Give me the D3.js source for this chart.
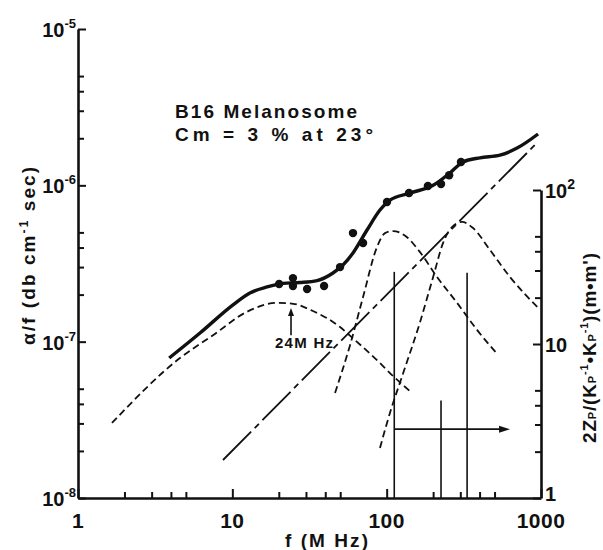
<!DOCTYPE html>
<html>
<head>
<meta charset="utf-8">
<script src="https://cdn.jsdelivr.net/npm/d3@7"></script>
<style>
  body { margin: 0; background: #fff; }
  text { font-family: "Liberation Sans", Arial, sans-serif; font-weight: bold; fill: #111; }
</style>
</head>
<body>
<div id="chart"></div>
<script>
// tick values
var xMajor = [1, 10, 100, 1000];
var yLeftMajor = [1e-8, 1e-7, 1e-6, 1e-5];
var yRightMajor = [1, 10, 100];
var minorMult = [2, 3, 4, 5];

// measured points (alpha/f)
var measF = [20.1, 24.7, 24.7, 30.5, 39.3, 49.9, 60.5, 70.3, 100.5, 139.6, 185, 225, 254, 303];
var measA = [2.34e-7, 2.55e-7, 2.27e-7, 2.17e-7, 2.27e-7, 3.0e-7, 4.95e-7, 4.28e-7, 7.82e-7, 8.93e-7, 9.9e-7, 1.02e-6, 1.16e-6, 1.41e-6];

// fitted total curve
var fitF = [3.9, 6.2, 10.1, 13.0, 16.8, 21.3, 27.4, 35.4, 44.9, 52.1, 60.5, 74.6, 90.5, 105, 142, 200, 257, 312, 403, 542, 700, 957];
var fitA = [7.86e-8, 1.14e-7, 1.72e-7, 2.05e-7, 2.24e-7, 2.36e-7, 2.39e-7, 2.46e-7, 2.75e-7, 3.09e-7, 3.69e-7, 5.18e-7, 6.95e-7, 8.05e-7, 8.93e-7, 1.0e-6, 1.2e-6, 1.41e-6, 1.5e-6, 1.56e-6, 1.73e-6, 2.13e-6];

// relaxation components (dashed)
var relax1F = [1.66, 4.58, 7.5, 12.4, 19.5, 23.6, 33.3, 49.9, 60.5, 90.5, 105, 146];
var relax1A = [3.02e-8, 7.86e-8, 1.10e-7, 1.55e-7, 1.77e-7, 1.76e-7, 1.57e-7, 1.24e-7, 1.05e-7, 7.3e-8, 6.3e-8, 4.7e-8];
var relax2F = [46.3, 57.9, 70.3, 86.6, 97.5, 110, 135, 164, 212, 286, 385, 527];
var relax2A = [4.7e-8, 9.5e-8, 1.93e-7, 4.03e-7, 4.95e-7, 5.1e-7, 4.67e-7, 3.75e-7, 2.59e-7, 1.77e-7, 1.19e-7, 8.22e-8];
var relax3F = [90.5, 105, 128, 164, 200, 232, 265, 308, 363, 467, 630, 985];
var relax3A = [2.09e-8, 3.5e-8, 6.3e-8, 1.32e-7, 2.59e-7, 4.28e-7, 5.41e-7, 5.83e-7, 5.33e-7, 3.86e-7, 2.59e-7, 1.6e-7];

// classical f^2 line (dash-dot)
var classF = [8.7, 957];
var classA = [1.75e-8, 1.9e-6];

// relaxation spectrum bars (right axis)
var specF = [112, 225, 332];
var specH = [29.4, 4.3, 29];
var arrowF = [112, 630];
var arrowLevel = 2.8;

// 24 MHz annotation
var peakF = 24;
var peakArrowA = [1.10e-7, 1.64e-7];

var width = 603, height = 550;
var svg = d3.select("#chart").append("svg").attr("width", width).attr("height", height);

var x = d3.scaleLog().domain([1, 1000]).range([78, 541]);
var yL = d3.scaleLog().domain([1e-8, 1e-5]).range([498, 29]);
var yR = d3.scaleLog().domain([1, 100]).range([498, 190]);

function minors(majors) {
    var out = [];
    majors.slice(0, -1).forEach(function(m) {
        minorMult.forEach(function(k) { out.push(m * k); });
    });
    return out;
}

function styleAxis(g, w) {
    g.select(".domain").attr("stroke", "#111").attr("stroke-width", w);
    g.selectAll(".tick line").attr("stroke", "#111").attr("stroke-width", 2);
    g.selectAll(".tick text").remove();
}

// bottom axis
svg.append("g").attr("transform", "translate(0,498)")
    .call(d3.axisTop(x).tickValues(xMajor).tickSizeInner(9).tickSizeOuter(0).tickFormat(""))
    .call(styleAxis, 2.6);
svg.append("g").attr("transform", "translate(0,498)")
    .call(d3.axisTop(x).tickValues(minors(xMajor)).tickSizeInner(6).tickSizeOuter(0).tickFormat(""))
    .call(styleAxis, 0).call(function(g) { g.select(".domain").remove(); });

// left axis
svg.append("g").attr("transform", "translate(78,0)")
    .call(d3.axisRight(yL).tickValues(yLeftMajor).tickSizeInner(8).tickSizeOuter(0).tickFormat(""))
    .call(styleAxis, 2.6);
svg.append("g").attr("transform", "translate(78,0)")
    .call(d3.axisRight(yL).tickValues(minors(yLeftMajor)).tickSizeInner(6).tickSizeOuter(0).tickFormat(""))
    .call(styleAxis, 0).call(function(g) { g.select(".domain").remove(); });

// right axis
svg.append("g").attr("transform", "translate(541,0)")
    .call(d3.axisLeft(yR).tickValues(yRightMajor).tickSizeInner(8).tickSizeOuter(0).tickFormat(""))
    .call(styleAxis, 2.6);
svg.append("g").attr("transform", "translate(541,0)")
    .call(d3.axisLeft(yR).tickValues(minors(yRightMajor)).tickSizeInner(6).tickSizeOuter(0).tickFormat(""))
    .call(styleAxis, 0).call(function(g) { g.select(".domain").remove(); });

// tick labels
svg.selectAll(".xlab").data(xMajor).enter().append("text")
    .attr("x", d => x(d)).attr("y", 528).attr("text-anchor", "middle")
    .attr("font-size", 21).attr("letter-spacing", 0.5).text(d => d);

var yl = svg.selectAll(".ylab").data(yLeftMajor).enter().append("text")
    .attr("x", 76).attr("y", d => yL(d) + 8).attr("text-anchor", "end").attr("font-size", 20);
yl.append("tspan").text("10");
yl.append("tspan").attr("dy", -9).attr("font-size", 13).text(d => "-" + Math.round(-Math.log10(d)));

var yr = svg.selectAll(".yrlab").data(yRightMajor).enter().append("text")
    .attr("x", 545).attr("y", d => yR(d) + (d === 1 ? 3 : 8)).attr("font-size", 20);
yr.append("tspan").text(d => d === 1 ? "1" : "10");
yr.filter(d => d === 100).append("tspan").attr("dy", -9).attr("font-size", 14).text("2");

// axis titles
svg.append("text").attr("x", 285).attr("y", 547)
    .attr("font-size", 19).attr("textLength", 83).attr("lengthAdjust", "spacing").text("f  (M Hz)");

var lt = svg.append("text").attr("transform", "translate(35,167) rotate(-90)")
    .attr("x", -178).attr("font-size", 19)
    .attr("textLength", 178).attr("lengthAdjust", "spacing");
lt.append("tspan").text("\u03b1/f  (db cm");
lt.append("tspan").attr("dy", -7).attr("font-size", 12).text("-1");
lt.append("tspan").attr("dy", 7).text(" sec)");

var rt = svg.append("text").attr("transform", "translate(596,253) rotate(-90)")
    .attr("x", -190).attr("font-size", 19)
    .attr("textLength", 190).attr("lengthAdjust", "spacing");
rt.append("tspan").text("2Z");
rt.append("tspan").attr("font-size", 11).text("P");
rt.append("tspan").text("/(K");
rt.append("tspan").attr("font-size", 11).text("P");
rt.append("tspan").attr("dy", -8).attr("font-size", 11).text("-1");
rt.append("tspan").attr("dy", 8).text("\u2022K");
rt.append("tspan").attr("font-size", 11).text("P");
rt.append("tspan").attr("dy", -8).attr("font-size", 11).text("-1");
rt.append("tspan").attr("dy", 8).text(")(m\u2022m')");

// legend text
svg.append("text").attr("x", 175).attr("y", 118).attr("font-size", 19)
    .attr("textLength", 182).attr("lengthAdjust", "spacing").text("B16 Melanosome");
svg.append("text").attr("x", 175).attr("y", 141).attr("font-size", 19)
    .attr("textLength", 198).attr("lengthAdjust", "spacing").text("Cm = 3 %  at 23\u00b0");

// curves
var lineL = d3.line().x(d => x(d[0])).y(d => yL(d[1])).curve(d3.curveMonotoneX);

function drawCurve(fs, as, w, dash) {
    svg.append("path").datum(d3.zip(fs, as)).attr("d", lineL)
        .attr("fill", "none").attr("stroke", "#111").attr("stroke-width", w)
        .attr("stroke-dasharray", dash);
}

drawCurve(relax1F, relax1A, 1.8, "7,4");
drawCurve(relax2F, relax2A, 1.8, "7,4");
drawCurve(relax3F, relax3A, 1.8, "7,4");
drawCurve(classF, classA, 1.8, "40,5,6,5");
drawCurve(fitF, fitA, 3.4, null);

svg.selectAll(".pt").data(d3.zip(measF, measA)).enter().append("circle")
    .attr("cx", d => x(d[0])).attr("cy", d => yL(d[1])).attr("r", 4.2).attr("fill", "#111");

// relaxation spectrum
svg.selectAll(".spec").data(d3.zip(specF, specH)).enter().append("line")
    .attr("x1", d => x(d[0])).attr("x2", d => x(d[0]))
    .attr("y1", yR(1)).attr("y2", d => yR(d[1]))
    .attr("stroke", "#111").attr("stroke-width", 1.6);

var ay = yR(arrowLevel);
svg.append("line").attr("x1", x(arrowF[0])).attr("x2", x(arrowF[1]) - 8)
    .attr("y1", ay).attr("y2", ay).attr("stroke", "#111").attr("stroke-width", 1.6);
svg.append("path").attr("d", d3.line()([[x(arrowF[1]), ay], [x(arrowF[1]) - 11, ay - 3.5], [x(arrowF[1]) - 11, ay + 3.5]]) + "Z")
    .attr("fill", "#111");

// 24 MHz marker
var px = x(peakF);
svg.append("line").attr("x1", px).attr("x2", px)
    .attr("y1", yL(peakArrowA[0])).attr("y2", yL(peakArrowA[1]) + 6)
    .attr("stroke", "#111").attr("stroke-width", 1.6);
svg.append("path").attr("d", d3.line()([[px, yL(peakArrowA[1])], [px - 3, yL(peakArrowA[1]) + 8], [px + 3, yL(peakArrowA[1]) + 8]]) + "Z")
    .attr("fill", "#111");
svg.append("text").attr("x", 275).attr("y", 348).attr("font-size", 15)
    .attr("textLength", 58).attr("lengthAdjust", "spacing").text("24M Hz");
</script>
</body>
</html>
